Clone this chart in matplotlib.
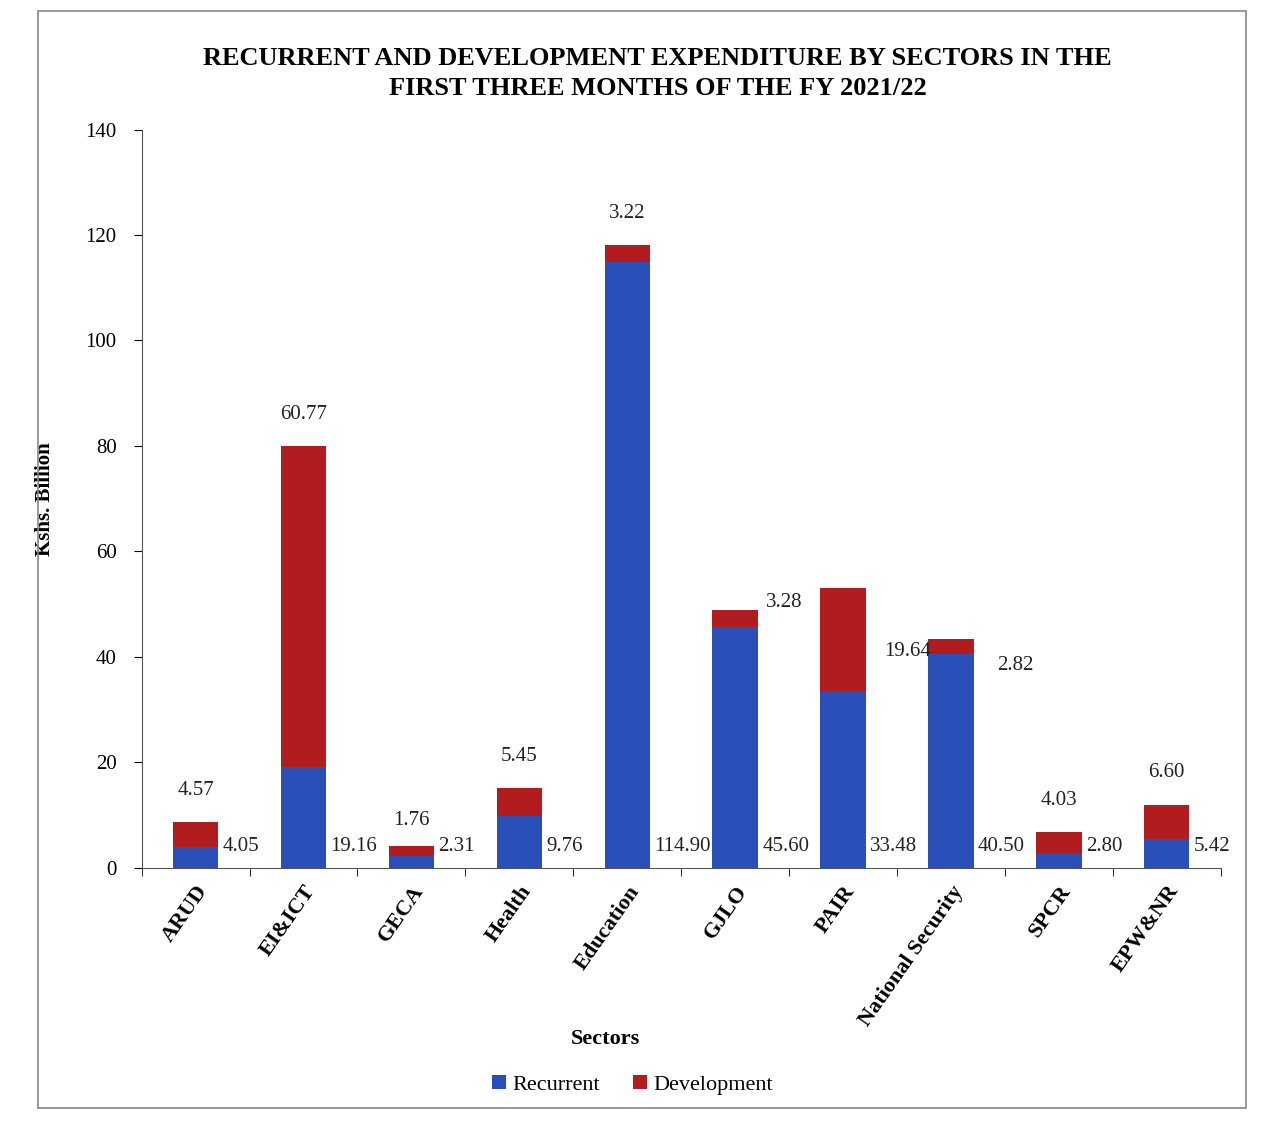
import numpy as np
import matplotlib.pyplot as plt
from matplotlib.patches import Rectangle

# Sector expenditure, Kshs. billion
sectors = ["ARUD", "EI&ICT", "GECA", "Health", "Education", "GJLO", "PAIR",
           "National Security", "SPCR", "EPW&NR"]
recurrent = [4.05, 19.16, 2.31, 9.76, 114.90, 45.60, 33.48, 40.50, 2.80, 5.42]
development = [4.57, 60.77, 1.76, 5.45, 3.22, 3.28, 19.64, 2.82, 4.03, 6.60]

# nudges for the development labels (x, y in data units), as placed in the original
dev_dx = [0, 0, 0, 0, 0, 0.45, 0.6, 0.6, 0, 0]
dev_dy = [6, 6, 5, 6, 6, 1.5, -12, -5, 6, 6]

blue = "#2b4fb8"
red = "#b11d1f"

plt.rcParams['font.family'] = ['Liberation Serif', 'DejaVu Serif']

fig = plt.figure(figsize=(12.65, 11.36), dpi=100)
ax = fig.add_axes([0.112, 0.236, 0.853, 0.65])

x = np.arange(len(sectors))
w = 0.42
ax.bar(x, recurrent, w, color=blue, label="Recurrent")
ax.bar(x, development, w, bottom=recurrent, color=red, label="Development")

for i in range(len(sectors)):
    total = recurrent[i] + development[i]
    ax.text(x[i] + w / 2 + 0.04, 4, f"{recurrent[i]:.2f}", ha='left', va='center',
            fontsize=15, color='#222222')
    ax.text(x[i] + dev_dx[i], total + dev_dy[i], f"{development[i]:.2f}",
            ha='center', va='center', fontsize=15, color='#222222')

ax.set_xlim(-0.5, len(sectors) - 0.5)
ax.set_ylim(0, 140)
ax.set_yticks(range(0, 141, 20))
ax.tick_params(axis='y', labelsize=15, direction='out', length=6, pad=12)
ax.set_xticks(np.arange(len(sectors) + 1) - 0.5, minor=True)
ax.set_xticks(x)
ax.set_xticklabels(sectors, rotation=55, ha='right', rotation_mode='anchor',
                   fontsize=16, fontweight='bold')
ax.tick_params(axis='x', which='major', length=0, pad=10)
ax.tick_params(axis='x', which='minor', length=6, direction='out')

for s in ['top', 'right']:
    ax.spines[s].set_visible(False)
for s in ['left', 'bottom']:
    ax.spines[s].set_color('#555555')

ax.set_ylabel("Kshs. Billion", fontsize=15, fontweight='bold', labelpad=22,
              family=['Liberation Sans Narrow', 'Liberation Serif'])
ax.set_xlabel("Sectors", fontsize=16, fontweight='bold', labelpad=4)
ax.xaxis.set_label_coords(0.43, -0.218)

fig.text(0.52, 0.935, "RECURRENT AND DEVELOPMENT EXPENDITURE BY SECTORS IN THE\n"
         "FIRST THREE MONTHS OF THE FY 2021/22", ha='center', va='center',
         fontsize=19, fontweight='bold', linespacing=1.4)

fig.legend(loc='center', bbox_to_anchor=(0.5, 0.045), ncol=2, frameon=False,
           fontsize=16, handlelength=0.6, handleheight=0.6, handletextpad=0.3,
           columnspacing=1.5)

fig.patches.append(Rectangle((0.03, 0.025), 0.955, 0.965, transform=fig.transFigure,
                             fill=False, edgecolor='#888888', linewidth=1.2))

fig.savefig("out.png", dpi=100)
